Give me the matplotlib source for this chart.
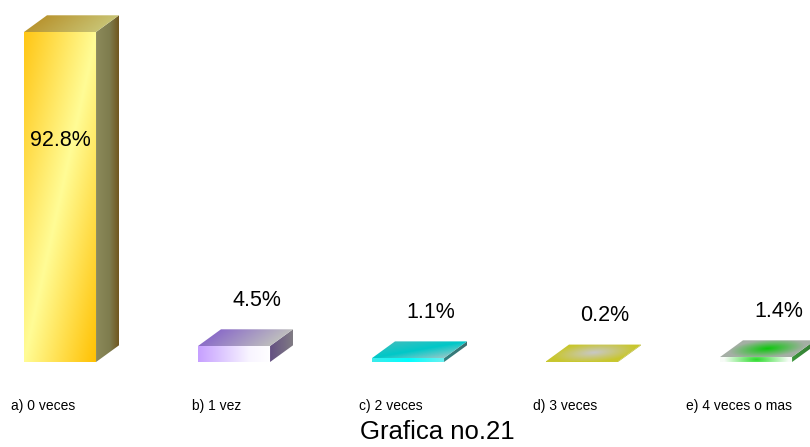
import matplotlib
matplotlib.use('Agg')
import matplotlib.pyplot as plt
from matplotlib.patches import Polygon
import numpy as np

plt.rcParams['font.family'] = ['Liberation Sans', 'DejaVu Sans']

# Datos de la grafica
categorias = ['a) 0 veces', 'b) 1 vez', 'c) 2 veces', 'd) 3 veces', 'e) 4 veces o mas']
porcentajes = [92.8, 4.5, 1.1, 0.2, 1.4]
titulo = 'Grafica no.21'

# Geometria de las barras (unidades de datos)
ANCHO = 0.414
DX, DY = 0.132, 4.7


def rgb(*c):
    return np.array(c, dtype=float) / 255.0


def rampa(p, paradas):
    """Interpola colores sobre un parametro p en [0, 1]."""
    pos = np.array([q for q, _ in paradas])
    cols = np.array([c for _, c in paradas])
    out = np.zeros(p.shape + (3,))
    for k in range(3):
        out[..., k] = np.interp(p, pos, cols[:, k])
    return out


# Estilos por barra: funcion de color para cada cara (s, t en [0,1])
def lineal_s(paradas):
    return lambda s, t: rampa(s, paradas)


def diagonal(paradas):
    return lambda s, t: rampa((s + (1 - t)) / 2, paradas)


def radial(centro, borde, sx=0.5, st=0.5):
    def f(s, t):
        r = np.clip(np.sqrt(((s - 0.5) / sx) ** 2 + ((t - 0.5) / st) ** 2), 0, 1)
        return rampa(r, [(0, centro), (1, borde)])
    return f


estilos = [
    {
        'frente': diagonal([(0, rgb(255, 198, 20)), (0.5, rgb(255, 252, 150)), (1, rgb(255, 192, 0))]),
        'lado': lineal_s([(0, rgb(140, 138, 90)), (0.6, rgb(126, 124, 78)), (1, rgb(112, 86, 30))]),
        'tapa': lineal_s([(0, rgb(185, 150, 50)), (1, rgb(200, 195, 115))]),
    },
    {
        'frente': lineal_s([(0, rgb(198, 160, 255)), (0.7, rgb(248, 244, 255)), (1, rgb(255, 255, 255))]),
        'lado': lineal_s([(0, rgb(100, 80, 130)), (1, rgb(128, 124, 132))]),
        'tapa': lineal_s([(0, rgb(140, 110, 200)), (1, rgb(190, 190, 190))]),
    },
    {
        'frente': lineal_s([(0, rgb(60, 235, 235)), (0.5, rgb(0, 255, 255)), (1, rgb(110, 240, 240))]),
        'lado': lineal_s([(0, rgb(50, 130, 130)), (1, rgb(60, 110, 110))]),
        'tapa': diagonal([(0, rgb(60, 190, 190)), (0.5, rgb(0, 200, 200)), (1, rgb(150, 200, 200))]),
    },
    {
        'frente': lineal_s([(0, rgb(200, 200, 50)), (1, rgb(200, 200, 50))]),
        'lado': lineal_s([(0, rgb(180, 180, 40)), (1, rgb(180, 180, 40))]),
        'tapa': radial(rgb(200, 200, 200), rgb(200, 198, 45), 0.55, 0.6),
    },
    {
        'frente': radial(rgb(40, 220, 40), rgb(248, 252, 248), 0.45, 2.0),
        'lado': lineal_s([(0, rgb(60, 150, 60)), (1, rgb(50, 120, 50))]),
        'tapa': radial(rgb(10, 200, 10), rgb(165, 175, 165), 0.5, 0.55),
    },
]


def cara(ax, origen, a, b, colorf, n=120):
    """Dibuja un paralelogramo origen + s*a + t*b con relleno degradado."""
    o = np.array(origen, float)
    a = np.array(a, float)
    b = np.array(b, float)
    esquinas = np.array([o, o + a, o + a + b, o + b])
    x0, x1 = esquinas[:, 0].min(), esquinas[:, 0].max()
    y0, y1 = esquinas[:, 1].min(), esquinas[:, 1].max()
    if y1 - y0 < 1e-9 or x1 - x0 < 1e-9:
        return
    xs = np.linspace(x0, x1, n)
    ys = np.linspace(y0, y1, n)
    X, Y = np.meshgrid(xs, ys)
    m = np.array([[a[0], b[0]], [a[1], b[1]]])
    inv = np.linalg.inv(m)
    S = inv[0, 0] * (X - o[0]) + inv[0, 1] * (Y - o[1])
    T = inv[1, 0] * (X - o[0]) + inv[1, 1] * (Y - o[1])
    img = colorf(np.clip(S, 0, 1), np.clip(T, 0, 1))
    poly = Polygon(esquinas, closed=True, facecolor='none', edgecolor='none')
    ax.add_patch(poly)
    im = ax.imshow(img, extent=(x0, x1, y0, y1), origin='lower',
                   aspect='auto', interpolation='bilinear', zorder=2)
    im.set_clip_path(poly)


fig = plt.figure(figsize=(8.1, 4.47), dpi=100)
ax = fig.add_axes([0, 0, 1, 1])
ax.set_xlim(-0.345, 4.31)
ax.set_ylim(-23.9, 101.8)
ax.axis('off')

for i, (v, est) in enumerate(zip(porcentajes, estilos)):
    izq = i - ANCHO / 2
    der = i + ANCHO / 2
    cara(ax, (izq, 0), (ANCHO, 0), (0, v), est['frente'])
    cara(ax, (der, 0), (DX, DY), (0, v), est['lado'])
    cara(ax, (izq, v), (ANCHO, 0), (DX, DY), est['tapa'])

    etiqueta = f'{v}%'
    if v > 50:
        ax.text(i, v * 0.672, etiqueta, ha='center', va='center', fontsize=15.5, zorder=3)
    else:
        ax.text(i + 0.13, v + DY + 8.2, etiqueta, ha='center', va='center', fontsize=15.5, zorder=3)

    ax.text(i - 0.098, -12.4, categorias[i], ha='center', va='center', fontsize=10)

fig.text(437 / 810, 1 - 432 / 447, titulo, ha='center', va='center', fontsize=18.5)

fig.savefig('out.png', dpi=100)
